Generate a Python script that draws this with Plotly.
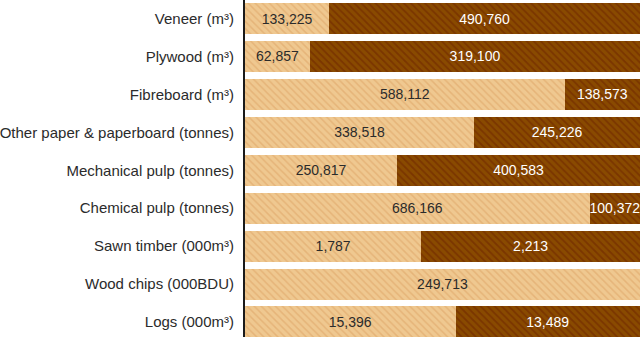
import plotly.graph_objects as go

# Product categories, top to bottom
categories = [
    "Veneer (m³)",
    "Plywood (m³)",
    "Fibreboard (m³)",
    "Other paper & paperboard (tonnes)",
    "Mechanical pulp (tonnes)",
    "Chemical pulp (tonnes)",
    "Sawn timber (000m³)",
    "Wood chips (000BDU)",
    "Logs (000m³)",
]

# First (light) and second (dark) segment of each bar
light_values = [133225, 62857, 588112, 338518, 250817, 686166, 1787, 249713, 15396]
dark_values = [490760, 319100, 138573, 245226, 400583, 100372, 2213, None, 13489]

FONT = "Liberation Sans Narrow, Arial Narrow, Liberation Sans, sans-serif"


def fmt(values):
    return ["" if v is None else f"{v:,}" for v in values]


fig = go.Figure()

fig.add_trace(go.Bar(
    y=categories,
    x=light_values,
    orientation="h",
    text=fmt(light_values),
    textposition="inside",
    insidetextanchor="middle",
    constraintext="none",
    textfont=dict(family=FONT, size=14, color="#2b2b2b"),
    marker=dict(
        color="#EFC68E",
        line=dict(width=0),
        pattern=dict(shape="\\", fgcolor="#DCA062", bgcolor="#EFC890",
                     size=5, solidity=0.3, fgopacity=0.5),
    ),
    hoverinfo="skip",
))

fig.add_trace(go.Bar(
    y=categories,
    x=dark_values,
    orientation="h",
    text=fmt(dark_values),
    textposition="inside",
    insidetextanchor="middle",
    constraintext="none",
    textfont=dict(family=FONT, size=14, color="#ffffff"),
    marker=dict(
        color="#874600",
        line=dict(width=0),
        pattern=dict(shape="\\", fgcolor="#6E2400", bgcolor="#894A00",
                     size=5, solidity=0.35, fgopacity=0.55),
    ),
    hoverinfo="skip",
))

fig.update_layout(
    width=641,
    height=337,
    barmode="stack",
    barnorm="percent",
    bargap=0.18,
    showlegend=False,
    paper_bgcolor="white",
    plot_bgcolor="white",
    margin=dict(l=245, r=1, t=0, b=0),
    xaxis=dict(range=[0, 100], visible=False, fixedrange=True),
    yaxis=dict(
        type="category",
        categoryorder="array",
        categoryarray=categories,
        range=[8.395, -0.488],
        showline=True,
        linecolor="#1a1a1a",
        linewidth=2,
        showgrid=False,
        ticks="",
        ticklabelstandoff=6,
        tickfont=dict(family=FONT, size=15, color="#2b2b2b"),
        fixedrange=True,
    ),
)

fig.write_html("out.html")
